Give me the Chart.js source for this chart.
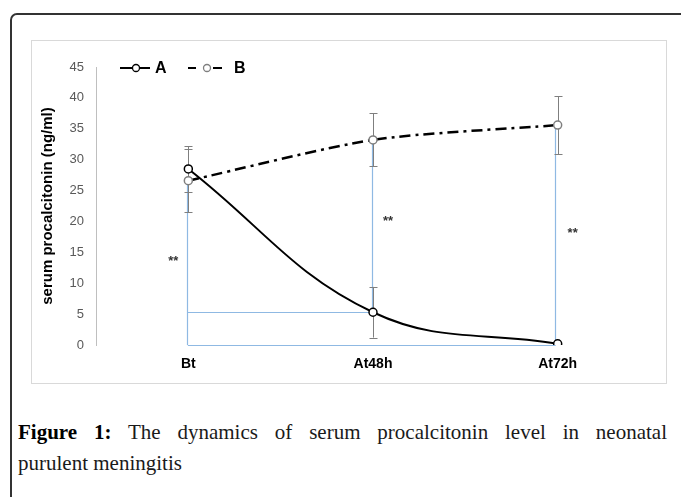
<!DOCTYPE html>
<html>
<head>
<meta charset="utf-8">
<script src="https://cdn.jsdelivr.net/npm/chart.js@4"></script>
<style>
  body { margin: 0; background: #fff; width: 681px; height: 497px; overflow: hidden; position: relative; }
  .frame { position: absolute; left: 10px; top: 13px; width: 720px; height: 540px; border: 2px solid #333; border-radius: 7px; }
  .box { position: absolute; left: 31px; top: 40px; width: 634px; height: 342px; border: 1px solid #d9d9d9; }
  .box canvas { display: block; }
  .caption { position: absolute; left: 18px; top: 417px; width: 649px; font-family: 'Liberation Serif', serif; font-size: 21px; line-height: 31px; color: #1a1a1a; }
  .caption .l1 { text-align: justify; text-align-last: justify; }
  .caption b { color: #000; }
</style>
</head>
<body>
<div class="frame"></div>
<div class="box"><canvas id="pctChart" width="634" height="342"></canvas></div>
<div class="caption">
  <div class="l1"><b>Figure 1:</b> The dynamics of serum procalcitonin level in neonatal</div>
  <div>purulent meningitis</div>
</div>
<script>
// data
const categories = ['Bt', 'At48h', 'At72h'];
const seriesA = [28.5, 5.3, 0.2];
const seriesB = [26.6, 33.2, 35.6];
const errA = [3.7, 4.1, 0];
const errB = [5.1, 4.3, 4.7];
const yTicks = [0, 5, 10, 15, 20, 25, 30, 35, 40, 45];
// significance markers: level of "**" and which side of the category
const starLevels = [13.5, 20, 18];
const starSide = [-1, 1, 1];
// blue bracket: vertical from B down to this base at each category
const bracketBase = [0, 5.3, 0];

const blue = '#8fb9e3';
const errGray = '#7f7f7f';

const annotations = {
  id: 'annotations',
  beforeDatasetsDraw(chart) {
    const { ctx, scales: { x, y } } = chart;
    ctx.save();
    // blue brackets
    ctx.strokeStyle = blue;
    ctx.lineWidth = 1.2;
    ctx.beginPath();
    categories.forEach((c, i) => {
      const px = Math.round(x.getPixelForValue(i)) - 0.5 - (i === 2 ? 2 : 0);
      ctx.moveTo(px, y.getPixelForValue(seriesB[i]));
      ctx.lineTo(px, y.getPixelForValue(bracketBase[i]));
    });
    const y0 = Math.round(y.getPixelForValue(0)) + 0.5;
    ctx.moveTo(x.getPixelForValue(0) - 0.5, y0);
    ctx.lineTo(x.getPixelForValue(2) - 2, y0);
    const yA = Math.round(y.getPixelForValue(bracketBase[1])) + 0.5;
    ctx.moveTo(x.getPixelForValue(0) - 0.5, yA);
    ctx.lineTo(x.getPixelForValue(1), yA);
    ctx.stroke();

    // error bars
    ctx.strokeStyle = errGray;
    ctx.lineWidth = 1;
    const bars = (vals, errs) => {
      vals.forEach((v, i) => {
        if (!errs[i]) return;
        const px = Math.round(x.getPixelForValue(i)) + 0.5;
        const top = y.getPixelForValue(v + errs[i]);
        const bot = y.getPixelForValue(v - errs[i]);
        ctx.beginPath();
        ctx.moveTo(px, top); ctx.lineTo(px, bot);
        ctx.moveTo(px - 4, Math.round(top) + 0.5); ctx.lineTo(px + 4, Math.round(top) + 0.5);
        ctx.moveTo(px - 4, Math.round(bot) + 0.5); ctx.lineTo(px + 4, Math.round(bot) + 0.5);
        ctx.stroke();
      });
    };
    bars(seriesA, errA);
    bars(seriesB, errB);

    // stars
    ctx.fillStyle = '#333';
    ctx.font = 'bold 13px "Liberation Sans", sans-serif';
    ctx.textAlign = 'center';
    ctx.textBaseline = 'middle';
    starLevels.forEach((v, i) => {
      ctx.fillText('**', x.getPixelForValue(i) + starSide[i] * 15, y.getPixelForValue(v));
    });
    ctx.restore();
  },
  afterDraw(chart) {
    // legend
    const { ctx } = chart;
    const ly = 27;
    ctx.save();
    ctx.lineWidth = 2;
    ctx.strokeStyle = '#000';
    ctx.beginPath();
    ctx.moveTo(88, ly); ctx.lineTo(118, ly);
    ctx.moveTo(156, ly); ctx.lineTo(164, ly);
    ctx.moveTo(181, ly); ctx.lineTo(190, ly);
    ctx.stroke();
    ctx.lineWidth = 1.3;
    ctx.fillStyle = '#fff';
    ctx.beginPath(); ctx.arc(104, ly, 3.5, 0, Math.PI * 2); ctx.fill(); ctx.stroke();
    ctx.strokeStyle = errGray;
    ctx.beginPath(); ctx.arc(175, ly, 3.5, 0, Math.PI * 2); ctx.fill(); ctx.stroke();
    ctx.fillStyle = '#000';
    ctx.font = 'bold 16px "Liberation Sans", sans-serif';
    ctx.textBaseline = 'middle';
    ctx.fillText('A', 123, ly + 1);
    ctx.fillText('B', 202, ly + 1);
    ctx.restore();
  }
};

new Chart(document.getElementById('pctChart'), {
  type: 'line',
  data: {
    labels: categories,
    datasets: [{
      label: 'A',
      data: seriesA,
      borderColor: '#000',
      borderWidth: 2,
      tension: 0.4,
      pointRadius: 4,
      pointBackgroundColor: '#fff',
      pointBorderColor: '#000',
      pointBorderWidth: 1.5
    }, {
      label: 'B',
      data: seriesB,
      borderColor: '#000',
      borderWidth: 2.5,
      borderDash: [11, 5, 3, 5],
      tension: 0.25,
      pointRadius: 4,
      pointBackgroundColor: '#fff',
      pointBorderColor: errGray,
      pointBorderWidth: 1.5
    }]
  },
  options: {
    responsive: false,
    animation: false,
    layout: { padding: { top: 26, right: 16, left: 0, bottom: 0 } },
    plugins: {
      legend: { display: false },
      tooltip: { enabled: false }
    },
    scales: {
      x: {
        offset: true,
        grid: { display: false },
        border: { display: false },
        ticks: { color: '#000', padding: 3, font: { family: '"Liberation Sans", sans-serif', size: 14, weight: 'bold' } },
        afterFit(s) { s.height = 38; }
      },
      y: {
        min: 0,
        max: 45,
        afterBuildTicks(s) { s.ticks = yTicks.map(v => ({ value: v })); },
        grid: { display: false },
        border: { display: true, color: '#bfbfbf' },
        ticks: { color: '#595959', padding: 4, font: { family: '"Liberation Sans", sans-serif', size: 13 } },
        title: {
          display: true,
          text: 'serum procalcitonin (ng/ml)',
          color: '#000',
          padding: { top: 7, bottom: 4 },
          font: { family: '"Liberation Sans", sans-serif', size: 15, weight: 'bold' }
        },
        afterFit(s) { s.width = 64; }
      }
    }
  },
  plugins: [annotations]
});
</script>
</body>
</html>
